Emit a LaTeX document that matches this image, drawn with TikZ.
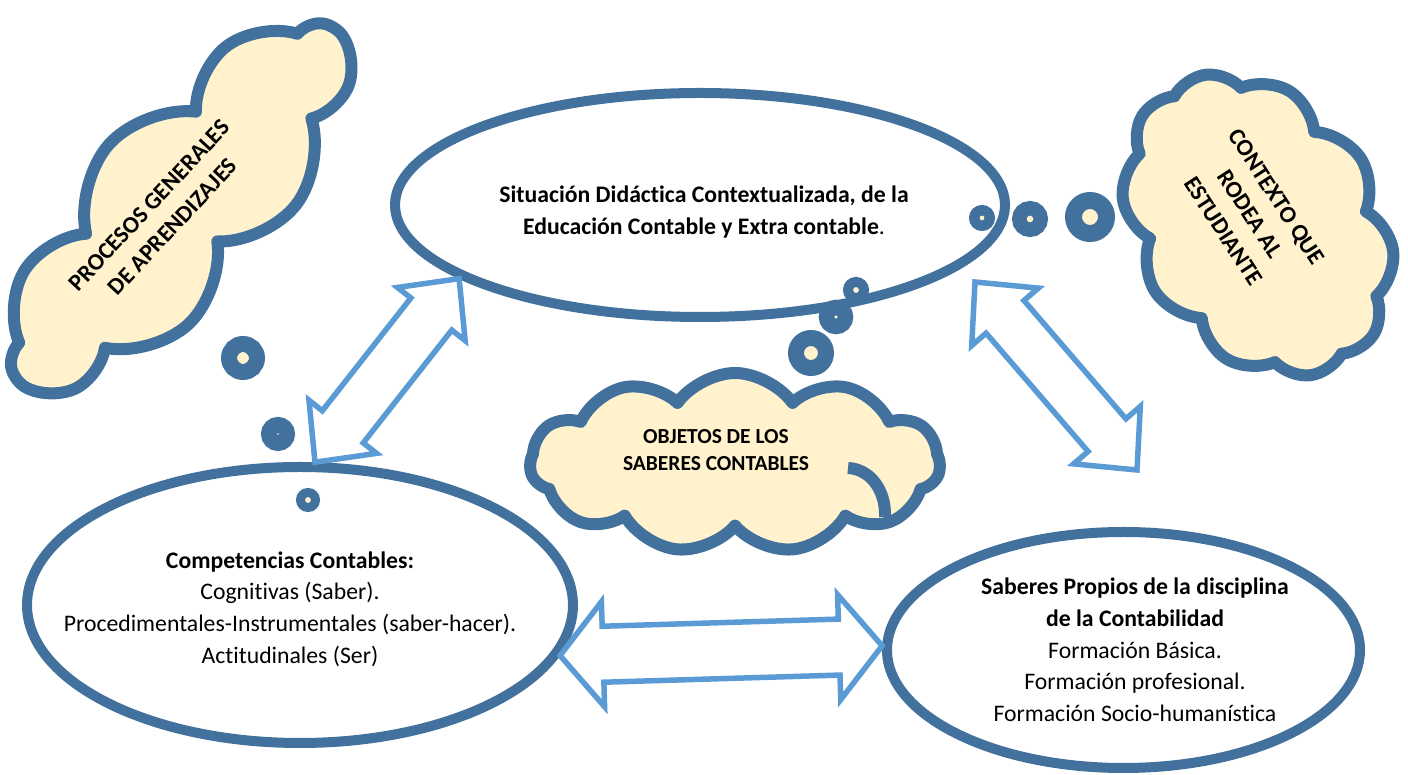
\documentclass[tikz,border=0pt]{standalone}
\usepackage{fontspec}
\setmainfont{Carlito}[Ligatures={NoCommon,NoRare,NoContextual}]
\usetikzlibrary{calc}
\usetikzlibrary{shapes.geometric,shapes.symbols}
\usetikzlibrary{positioning}

\definecolor{azul}{RGB}{65,113,156}
\definecolor{celeste}{RGB}{91,155,213}
\definecolor{crema}{RGB}{255,242,204}

\tikzset{
  elipse/.style={ellipse, draw=azul, line width=.2cm, fill=white, inner sep=0pt},
  nube/.style={cloud, cloud puffs=11, cloud puff arc=110, cloud ignores aspect,
    draw=azul, line width=.24cm, fill=crema, line join=round, inner sep=0pt},
  pliegue/.style={draw=azul, line width=.24cm},
  texto/.style={align=center, font=\fontsize{13.5}{18}\selectfont},
  textonube/.style={align=center, font=\fontsize{13.5}{18}\selectfont\bfseries},
  burbuja/.style={draw=azul, fill=crema},
  flecha/.style={draw=celeste, line width=.11cm, fill=white},
}

% double block arrow: from, to, head length, head half width, shaft half width
\newcommand{\flechadoble}[5]{%
  \draw[flecha] (#1)
    -- ($(#1)!#3!(#2)!#4!90:(#2)$) -- ($(#1)!#3!(#2)!#5!90:(#2)$)
    -- ($(#2)!#3!(#1)!#5!-90:(#1)$) -- ($(#2)!#3!(#1)!#4!-90:(#1)$)
    -- (#2)
    -- ($(#2)!#3!(#1)!#4!90:(#1)$) -- ($(#2)!#3!(#1)!#5!90:(#1)$)
    -- ($(#1)!#3!(#2)!#5!-90:(#2)$) -- ($(#1)!#3!(#2)!#4!-90:(#2)$)
    -- cycle;}

\begin{document}
\begin{tikzpicture}
\useasboundingbox (0,0) rectangle (28.16,15.5);

% ellipses
\node[elipse, minimum width=12.2cm, minimum height=4.48cm] (sit) at (14.00,11.40) {};
\node[elipse, minimum width=10.92cm, minimum height=5.52cm] (comp) at (6.00,3.40) {};
\node[elipse, minimum width=9.46cm, minimum height=4.72cm] (sab) at (22.47,2.50) {};

% clouds
\node[nube, cloud puffs=9, minimum width=9.4cm, minimum height=3.7cm, rotate=48] (proc) at (3.56,11.38) {};
\node[nube, cloud puffs=10, minimum width=6.5cm, minimum height=4.9cm, rotate=-57] (ctx) at (25.16,11.0) {};
\node[nube, minimum width=8.2cm, minimum height=3.6cm] (obj) at (14.70,6.24) {};
\draw[pliegue] (16.96,6.14) .. controls (17.4,6.12) and (17.72,5.7) .. (17.70,5.16);

% thought bubbles
\draw[burbuja, line width=.21cm] (19.64,11.14) circle (.155);
\draw[burbuja, line width=.29cm] (20.60,11.12) circle (.215);
\draw[burbuja, line width=.34cm] (21.80,11.16) circle (.33);
\draw[burbuja, line width=.32cm] (4.86,8.34) circle (.28);
\draw[burbuja, line width=.32cm] (5.56,6.82) circle (.18);
\draw[burbuja, line width=.18cm] (6.16,5.50) circle (.15);
\draw[burbuja, line width=.2cm] (17.12,9.70) circle (.16);
\draw[burbuja, line width=.31cm] (16.72,9.16) circle (.19);
\draw[burbuja, line width=.32cm] (16.22,8.44) circle (.30);

% arrows
\coordinate (fa) at (19.50,9.86);
\coordinate (fb) at (22.74,6.10);
\flechadoble{comp.84}{sit.197}{.9cm}{.86cm}{.52cm}
\flechadoble{fa}{fb}{.92cm}{.88cm}{.5cm}
\flechadoble{comp.349}{sab.179}{.86cm}{1.05cm}{.56cm}

% texts
\node[texto] (sittxt) at ([shift={(0.08,-0.14)}]sit.center)
  {\textbf{Situación Didáctica Contextualizada, de la}\\\textbf{Educación Contable y Extra contable}.};
\node[texto] (comptxt) at ([shift={(-0.2,-0.08)}]comp.center)
  {\textbf{Competencias Contables:}\\Cognitivas (Saber).\\Procedimentales-Instrumentales (saber-hacer).\\Actitudinales (Ser)};
\node[texto] (sabtxt) at ([xshift=0.23cm]sab.center)
  {\textbf{Saberes Propios de la disciplina}\\\textbf{de la Contabilidad}\\Formación Básica.\\Formación profesional.\\Formación Socio-humanística};
\node[textonube, rotate=47] (proctxt) at (3.22,11.18) {PROCESOS GENERALES\\DE APRENDIZAJES};
\node[textonube, rotate=-57] (ctxtxt) at (25.0,11.22) {CONTEXTO QUE\\RODEA AL\\ESTUDIANTE};
\node[textonube, font=\fontsize{12.2}{15.3}\selectfont\bfseries] (objtxt) at (14.32,6.5) {OBJETOS DE LOS\\SABERES CONTABLES};
\end{tikzpicture}
\end{document}
